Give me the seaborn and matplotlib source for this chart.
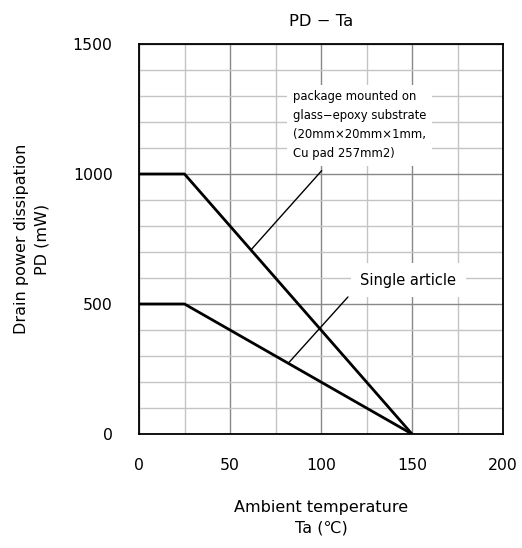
import numpy as np
import pandas as pd
import matplotlib
matplotlib.use("Agg")
import matplotlib.pyplot as plt
import seaborn as sns

# ---- data ----
temps = [0, 25, 150]
pd_substrate = [1000, 1000, 0]
pd_single = [500, 500, 0]
x_ticks = [0, 50, 100, 150, 200]
y_ticks = [0, 500, 1000, 1500]
substrate_label = ("package mounted on\nglass\u2212epoxy substrate\n"
                   "(20mm\u00d720mm\u00d71mm,\nCu pad 257mm2)")
single_label = "Single article"

sns.set_style("white")
plt.rcParams['font.family'] = ['DejaVu Sans', 'Noto Sans CJK JP']
plt.rcParams.update({'text.color': 'black', 'axes.labelcolor': 'black',
                     'xtick.color': 'black', 'ytick.color': 'black'})

df = pd.concat([
    pd.DataFrame({"Ta": temps, "PD": pd_substrate, "series": "substrate"}),
    pd.DataFrame({"Ta": temps, "PD": pd_single, "series": "single"}),
])

fig = plt.figure(figsize=(5.22, 5.48), dpi=100)
ax = fig.add_axes([139/522, 1-434/548, (503-139)/522, (434-44)/548])

ax.set_xlim(0, 200)
ax.set_ylim(0, 1500)
ax.set_xticks(x_ticks)
ax.set_yticks(y_ticks)
ax.set_xticks(np.arange(0, 201, 25), minor=True)
ax.set_yticks(np.arange(0, 1501, 100), minor=True)
ax.grid(which='minor', color='#c4c4c4', linewidth=1.0, zorder=0)
ax.grid(which='major', color='#888888', linewidth=1.0, zorder=0)
ax.set_axisbelow(True)

sns.lineplot(data=df, x="Ta", y="PD", units="series", estimator=None,
             color='black', linewidth=2, ax=ax, legend=False, sort=False)

for s in ax.spines.values():
    s.set_color('black')
    s.set_linewidth(1.3)

ax.tick_params(which='both', length=0, labelsize=11.3, labelcolor='black')
ax.tick_params(axis='x', pad=17)
ax.tick_params(axis='y', pad=19)

ax.set_title("PD \u2212 Ta", fontsize=11.8, pad=13, color='black')
ax.set_xlabel("Ambient temperature\nTa (\u2103)", fontsize=11.5, labelpad=20,
              linespacing=1.4, color='black')
ax.set_ylabel("Drain power dissipation\nPD (mW)", fontsize=11.5, labelpad=17,
              linespacing=1.45, color='black')

# leader lines
t1 = 61.5
p1 = np.interp(t1, temps, pd_substrate)
ax.annotate("", xy=(t1, p1), xytext=(100.4, 1013),
            arrowprops=dict(arrowstyle='-', color='black', lw=1,
                            shrinkA=0, shrinkB=0), zorder=4)
t2 = 82
p2 = np.interp(t2, temps, pd_single)
ax.annotate("", xy=(t2, p2), xytext=(114.8, 527),
            arrowprops=dict(arrowstyle='-', color='black', lw=1,
                            shrinkA=0, shrinkB=0), zorder=4)

ax.text(84.5, 1322, substrate_label, fontsize=8.4, va='top', ha='left',
        linespacing=1.6, zorder=5, color='black',
        bbox=dict(facecolor='white', edgecolor='none', pad=4))
ax.text(148, 592, single_label, fontsize=10.5, va='center', ha='center',
        zorder=5, color='black',
        bbox=dict(facecolor='white', edgecolor='none', pad=7))

fig.savefig("out.png", dpi=100)
